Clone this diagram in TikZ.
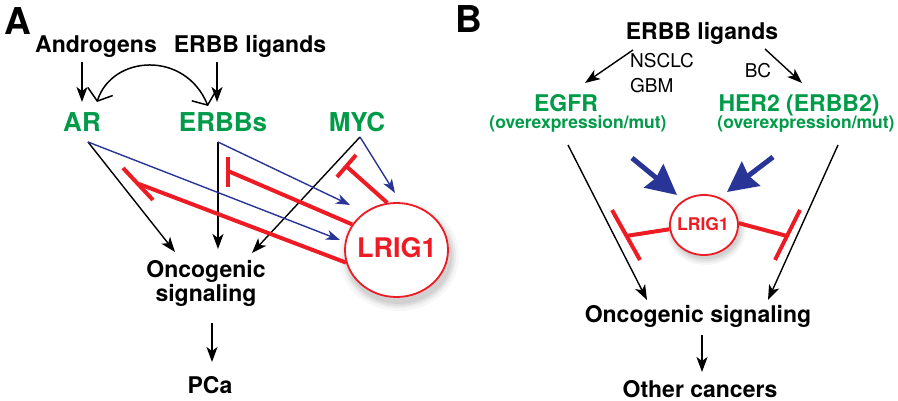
\documentclass[tikz,border=0pt]{standalone}
\usepackage{fontspec}
\setmainfont{TeX Gyre Heros}
\usetikzlibrary{arrows.meta,shapes.geometric}
\definecolor{grn}{RGB}{0,155,72}
\definecolor{rd}{RGB}{237,28,36}
\definecolor{blu}{RGB}{40,52,150}
\tikzset{
  txt/.style={inner sep=0pt, anchor=base, font=\fontsize{23}{26}\selectfont\bfseries},
  gtxt/.style={txt, text=grn, font=\fontsize{26}{30}\selectfont\bfseries},
  gsub/.style={txt, text=grn, font=\fontsize{17.5}{20}\selectfont\bfseries},
  thin/.style={inner sep=0pt, anchor=base, font=\fontsize{19}{22}\selectfont},
  panel/.style={inner sep=0pt, anchor=base, font=\fontsize{37}{40}\selectfont\bfseries},
  blk/.style={draw=black, line width=1.4pt, -{Stealth[length=15pt,width=11pt,inset=4pt]}},
  blue/.style={draw=blu, line width=1.4pt, -{Stealth[length=14pt,width=10pt,inset=4pt]}},
  bigblue/.style={draw=blu, line width=5pt, -{Stealth[length=30pt,width=30pt,inset=3pt]}},
  inh/.style={draw=rd, line width=4pt},
  barb/.style={draw=black, line width=1.5pt, {Straight Barb[length=10pt,width=26pt]}-{Straight Barb[length=10pt,width=26pt]}},
  lrig/.style={ellipse, draw=rd, line width=1.8pt, fill=white, inner sep=0pt, text=rd}
}
\begin{document}
\begin{tikzpicture}[x=1pt,y=-1pt]
\useasboundingbox (0,0) rectangle (898,401);
% ---------------- Panel A ----------------
\node[panel] (lA) at (18,35) {A};
\node[txt] (andr) at (96,53) {Androgens};
\node[txt] (ligA) at (250,53) {ERBB ligands};
\node[gtxt] (ar) at (82,132) {AR};
\node[gtxt] (erbbs) at (223,132) {ERBBs};
\node[gtxt] (myc) at (357,132) {MYC};
\node[txt, anchor=center, align=center, font=\fontsize{23}{24}\selectfont\bfseries] (oncA) at (206,283) {Oncogenic\\signaling};
\node[txt] (pca) at (210,393) {PCa};

% shadow of LRIG1 (A)
\foreach \s/\o in {8/0.035,5/0.045,3/0.055,1/0.06}
  \fill[black, opacity=\o] (399,256) ellipse [x radius=52pt+\s pt, y radius=47pt+\s pt];
\node[lrig, minimum width=103pt, minimum height=94pt] (lrA) at (396.5,250) {};
\node[txt, text=rd, font=\fontsize{27}{30}\selectfont\bfseries] (lrAt) at (397,258) {LRIG1};

% named points
\coordinate (arS) at (88,142);
\coordinate (erS) at (218,142);
\coordinate (myS) at (360,137);
\coordinate (oA1) at (175,252);
\coordinate (oA2) at (218,249);
\coordinate (oA3) at (252,253);
\coordinate (bA1) at (340,240);
\coordinate (bA2) at (350,205);
\coordinate (bA3) at (395,193);
\coordinate (andS) at (82,62);
\coordinate (arT) at (82,102);
\coordinate (ligS) at (217,62);
\coordinate (erT) at (217,102);
\coordinate (cvL) at (97,102);
\coordinate (cvR) at (208,106);

\draw[blk] (andS) -- (arT);
\draw[blk] (ligS) -- (erT);
\draw[barb] (cvL) .. controls (112,55) and (185,50) .. (cvR);

\draw[blk] (arS) -- (oA1);
\draw[blk] (erS) -- (oA2);
\draw[blk] (myS) -- (oA3);
\draw[blue] (arS) -- (bA1);
\draw[blue] (erS) -- (bA2);
\draw[blue] (myS) -- (bA3);

% inhibitions from LRIG1 (A)
\coordinate (iAR) at (139,184);
\draw[inh] (lrA.194) -- (iAR);
\draw[inh] (123,168) -- (153,200);
\coordinate (iER) at (228,171);
\draw[inh] (lrA.150) -- (iER);
\draw[inh] (228,157) -- (228,187);
\coordinate (iMY) at (346,166);
\draw[inh] (lrA.101) -- (iMY);
\draw[inh] (337,177) -- (356,155);

\coordinate (oAb) at (212,323);
\coordinate (pcT) at (212,362);
\draw[blk] (oAb) -- (pcT);

% ---------------- Panel B ----------------
\node[panel] (lB) at (469,33) {B};
\node[txt] (ligB) at (702,40) {ERBB ligands};
\node[thin, anchor=base west] (nsclc) at (630,68) {NSCLC};
\node[thin, anchor=base west] (gbm) at (630,93) {GBM};
\node[thin] (bc) at (758,78) {BC};
\node[txt, text=grn] (egfr) at (566,112) {EGFR};
\node[gsub] (oeL) at (578,129) {(overexpression/mut)};
\node[txt, text=grn] (her2) at (799,112) {HER2 (ERBB2)};
\node[gsub] (oeR) at (806,129) {(overexpression/mut)};
\node[txt] (oncB) at (698,323) {Oncogenic signaling};
\node[txt] (oth) at (700,397) {Other cancers};

\foreach \s/\o in {6/0.035,4/0.045,2/0.055,0/0.06}
  \fill[black, opacity=\o] (706,229) ellipse [x radius=34pt+\s pt, y radius=30pt+\s pt];
\node[lrig, minimum width=68pt, minimum height=60pt] (lrB) at (704,225) {};
\node[txt, text=rd, font=\fontsize{17.5}{20}\selectfont\bfseries] (lrBt) at (703,230) {LRIG1};

\coordinate (lgL) at (633,50);
\coordinate (egT) at (585,83);
\coordinate (lgR) at (765,49);
\coordinate (heT) at (802,83);
\draw[blk] (lgL) -- (egT);
\draw[blk] (lgR) -- (heT);

\coordinate (egS) at (568,145);
\coordinate (oB1) at (647,300);
\coordinate (heS) at (838,145);
\coordinate (oB2) at (768,300);
\draw[blk] (egS) -- (oB1);
\draw[blk] (heS) -- (oB2);

\coordinate (bbL) at (632,158);
\coordinate (bbLt) at (677,195);
\coordinate (bbR) at (773,157);
\coordinate (bbRt) at (727,192);
\draw[bigblue] (bbL) -- (bbLt);
\draw[bigblue] (bbR) -- (bbRt);

\coordinate (iEG) at (626,236);
\draw[inh] (lrB.187) -- (iEG);
\draw[inh] (612,210) -- (640,260);
\coordinate (iHE) at (787,236);
\draw[inh] (lrB.3) -- (iHE);
\draw[inh] (800,210) -- (775,260);

\coordinate (oBb) at (702,335);
\coordinate (otT) at (702,372);
\draw[blk] (oBb) -- (otT);
\end{tikzpicture}
\end{document}
